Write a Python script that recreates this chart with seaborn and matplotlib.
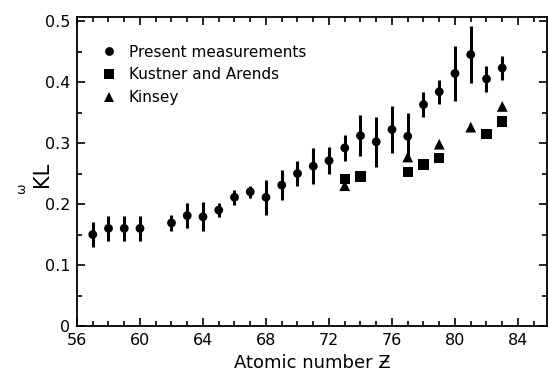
import numpy as np
import pandas as pd
import matplotlib
matplotlib.use("Agg")
import matplotlib.pyplot as plt
from matplotlib.ticker import MultipleLocator
import seaborn as sns

# omega_KL vs atomic number
z_present = [57, 58, 59, 60, 62, 63, 64, 65, 66, 67, 68, 69, 70,
             71, 72, 73, 74, 75, 76, 77, 78, 79, 80, 81, 82, 83]
w_present = [0.150, 0.160, 0.160, 0.160, 0.169, 0.181, 0.179, 0.190, 0.211,
             0.220, 0.211, 0.231, 0.250, 0.262, 0.271, 0.292, 0.312, 0.302,
             0.322, 0.311, 0.363, 0.384, 0.414, 0.445, 0.405, 0.423]
err_present = [0.020, 0.020, 0.020, 0.020, 0.013, 0.020, 0.024, 0.011, 0.012,
               0.010, 0.029, 0.025, 0.020, 0.030, 0.022, 0.021, 0.034, 0.041,
               0.039, 0.038, 0.021, 0.020, 0.045, 0.047, 0.022, 0.020]

z_kustner = [73, 74, 77, 78, 79, 82, 83]
w_kustner = [0.241, 0.245, 0.252, 0.265, 0.275, 0.315, 0.335]

z_kinsey = [73, 77, 79, 81, 83]
w_kinsey = [0.230, 0.277, 0.298, 0.326, 0.360]

labels = ["Present measurements", "Kustner and Arends", "Kinsey"]

df = pd.concat([
    pd.DataFrame({"Z": z_present, "w": w_present, "source": labels[0]}),
    pd.DataFrame({"Z": z_kustner, "w": w_kustner, "source": labels[1]}),
    pd.DataFrame({"Z": z_kinsey, "w": w_kinsey, "source": labels[2]}),
])

sns.set_style("ticks")
plt.rcParams["font.family"] = ["DejaVu Sans"]
plt.rcParams["text.color"] = "black"
plt.rcParams["axes.labelcolor"] = "black"

fig = plt.figure(figsize=(5.48, 3.75), dpi=100)
ax = fig.add_axes([77 / 548, 49 / 375, 470 / 548, 309 / 375])

ax.errorbar(z_present, w_present, yerr=err_present, fmt="none",
            ecolor="black", elinewidth=2.2, capsize=0)
sns.scatterplot(data=df, x="Z", y="w", style="source",
                markers={labels[0]: "o", labels[1]: "s", labels[2]: "^"},
                size="source", sizes={labels[0]: 40, labels[1]: 55, labels[2]: 60},
                color="black", edgecolor="black", linewidth=0, ax=ax, legend=True)

ax.set_xlim(56, 56 + 470 / 15.75)
ax.set_ylim(0, 309 / 610)
ax.xaxis.set_major_locator(MultipleLocator(4))
ax.xaxis.set_minor_locator(MultipleLocator(1))
ax.yaxis.set_major_locator(MultipleLocator(0.1))
ax.yaxis.set_minor_locator(MultipleLocator(0.05))
ax.set_yticks([0, 0.1, 0.2, 0.3, 0.4, 0.5])
ax.set_yticklabels(["0", "0.1", "0.2", "0.3", "0.4", "0.5"])
ax.tick_params(which="both", direction="in", top=True, right=True,
               labelsize=11.5, width=1.2, colors="black")
ax.tick_params(which="major", length=6, pad=5)
ax.tick_params(which="minor", length=3.5)
for s in ax.spines.values():
    s.set_linewidth(1.3)
    s.set_color("black")

ax.set_xlabel("Atomic number Ƶ", fontsize=13, labelpad=4)
ax.set_ylabel("")
fig.text(22 / 548, 1 - 189 / 375, "ω", rotation=90, fontsize=9,
         ha="center", va="center")
fig.text(42 / 548, 1 - 174 / 375, "KL", rotation=90, fontsize=15,
         ha="center", va="center")

handles, labs = ax.get_legend_handles_labels()
ax.legend(handles, labs, loc="upper left", bbox_to_anchor=(0.022, 0.93),
          frameon=False, fontsize=11, handletextpad=0.3,
          labelspacing=0.5, borderaxespad=0)

fig.savefig("out.png", dpi=100)
